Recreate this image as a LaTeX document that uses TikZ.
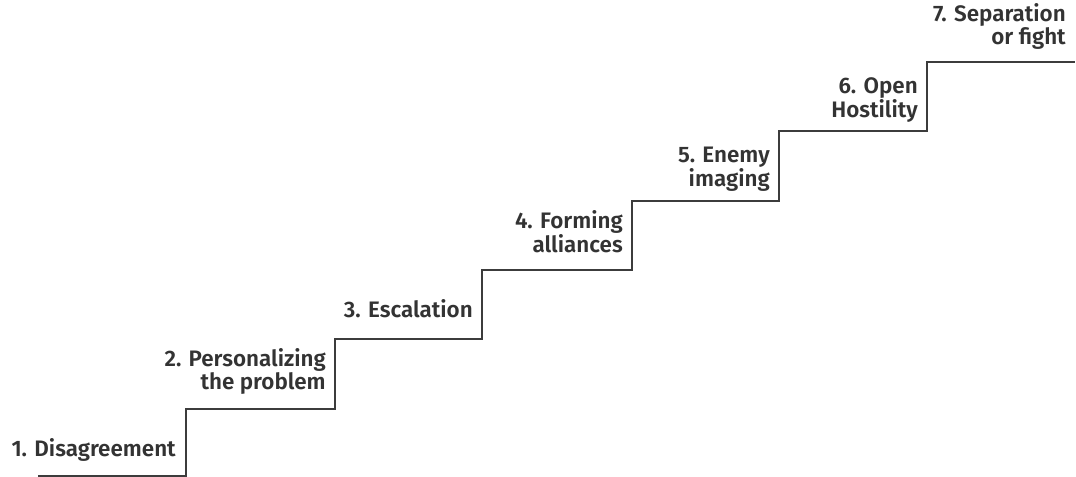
\documentclass[tikz,border=0pt]{standalone}
\usepackage{fontspec}
\setmainfont{Fira Sans}[BoldFont={Fira Sans SemiBold}]
\definecolor{ink}{HTML}{333333}
\definecolor{stairline}{HTML}{3C3C3C}
\begin{document}
\begin{tikzpicture}[x=0.75pt,y=-0.75pt,
  stair/.style={draw=stairline,line width=1.4pt,line join=miter},
  stage/.style={anchor=south east,inner sep=0pt,align=right,text depth=0pt,
    text=ink,font=\fontsize{16.8}{13.4}\selectfont\bfseries}]
\useasboundingbox (0,0) rectangle (1076,477);
% corners of the staircase (one riser per stage)
\coordinate (s0) at (38,476);
\coordinate (r1) at (186,476);
\coordinate (r2) at (335,409);
\coordinate (r3) at (482,339);
\coordinate (r4) at (632,270);
\coordinate (r5) at (779,201);
\coordinate (r6) at (927,131);
\coordinate (s7) at (1075,62);
\draw[stair] (s0) -- (r1) |- (r2) |- (r3) |- (r4) |- (r5) |- (r6) |- (s7);
% stage labels, right-aligned just left of each riser
\node[stage] (l1) at (176,457) {1. Disagreement};
\node[stage] (l2) at (326,390) {2. Personalizing\\the problem};
\node[stage] (l3) at (473,318) {3. Escalation};
\node[stage] (l4) at (623,253) {4. Forming\\alliances};
\node[stage] (l5) at (770,187) {5. Enemy\\imaging};
\node[stage] (l6) at (918,118) {6. Open\\Hostility};
\node[stage] (l7) at (1066,45) {7. Separation\\or fight};
\end{tikzpicture}
\end{document}
